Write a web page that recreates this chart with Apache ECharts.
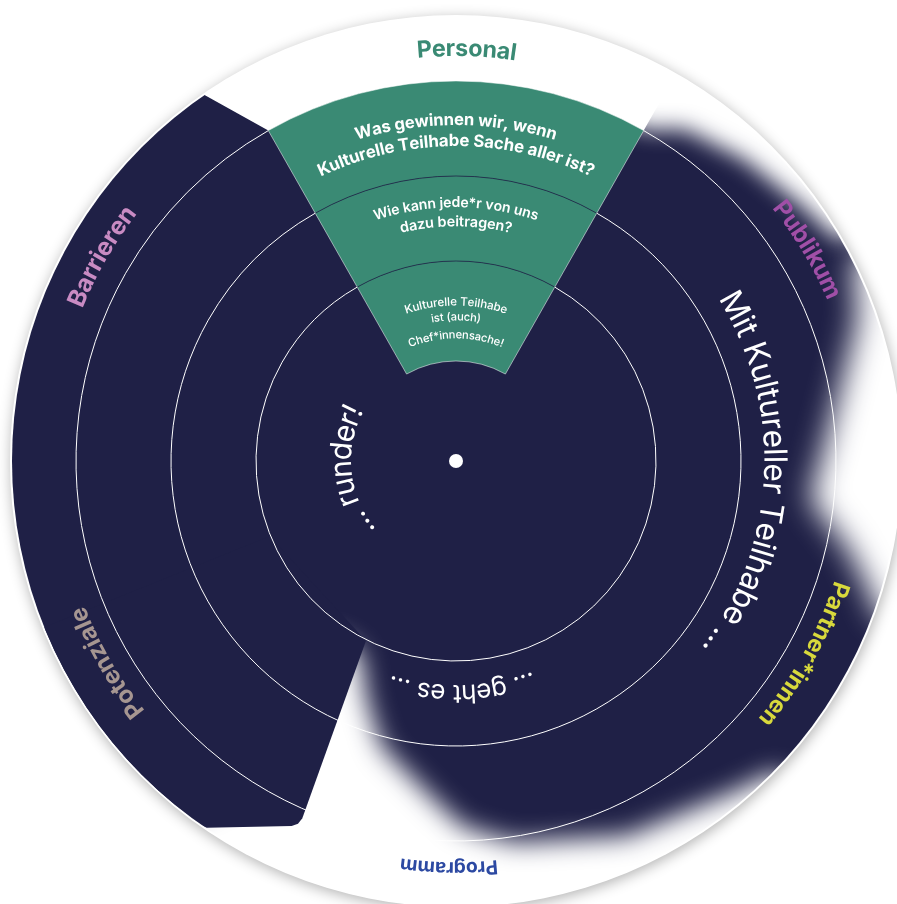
<!DOCTYPE html>
<html lang="de">
<head>
<meta charset="utf-8">
<title>Kulturelle Teilhabe</title>
<script src="https://cdn.jsdelivr.net/npm/echarts@6.0.0/dist/echarts.min.js"></script>
<style>
html, body { margin: 0; padding: 0; background: #ffffff; }
#chart { width: 897px; height: 904px; }
</style>
</head>
<body>
<div id="chart"></div>
<script>
// ---------------- data (radius units, bearings in degrees clockwise from top) ----------------
const categories = ['Personal', 'Publikum', 'Partner*innen', 'Programm', 'Potenziale', 'Barrieren'];
const categoryBearings = [1.5, 59, 119, 181, 240, 300];
const ringRadii = [200, 285, 380];
const discRadii = [446, 444];                       // card, wheel
const greenAngles = [330.4, 29.6];
const greenBands = [[100, 200], [200, 285], [285, 380]];
const greenQuestions = [
  ['Kulturelle Teilhabe', 'ist (auch)', 'Chef*innensache!'],
  ['Wie kann jede*r von uns', 'dazu beitragen?'],
  ['Was gewinnen wir, wenn', 'Kulturelle Teilhabe Sache aller ist?']
];
const sentence = ['Mit Kultureller Teilhabe ...', '... geht es ...', '... runder!'];
const sentenceBearings = [92.8, 178.5, 264];
// window cut out of the top disc: [bearing, radius]
const topCut = [[324.6, 900], [325.4, 446], [330.4, 380], [0, 368], [29.6, 380], [29.6, 900], [0, 900]];
// faded (blurred) cut-outs: [bearing, radius]
const fogTopRight = [[20, 383], [29.6, 381], [34.5, 403], [43.7, 417], [53.5, 430], [60, 441], [64, 900], [40, 900], [20, 900]];
const fogRight = [[63, 900], [63, 446], [70.5, 426], [78.7, 393], [88.3, 368], [96.2, 356], [102.6, 402], [108.3, 440], [110, 446], [113, 900], [88, 900]];
const fogBottom = [[132, 900], [134, 446], [140, 432], [155.5, 412], [171.3, 386], [178.9, 366], [184.4, 336],
  [194.7, 295], [200.8, 253], [204.5, 226], [207, 214], [216, 214], [213, 393], [232, 900], [200, 900], [165, 900]];
// lower left panel of the wheel (hard edge, rounded corner)
const lowerPanel = [[206.6, 201], [203.27, 389], [203.54, 395.6], [204.24, 400.4], [214.2, 443.5],
  [222, 460], [235, 460], [248, 460], [248, 201]];
const fogShapes = [fogTopRight, fogRight, fogBottom];

// ---------------- styles / layout ----------------
const NAVY = '#1f2046';
const GREEN = '#3a8a74';
const labelColors = ['#3a8a74', '#a04fa7', '#d8d93c', '#2c49a2', '#a69691', '#c98bc3'];
const fogBlur = [22, 30, 26];
const OFF = 3000;
const FONT = 'Inter, "Open Sans", sans-serif';
const layout = {
  labels: { r: [412, 412, 404, 407, 406, 411], width: [100, 110, 162, 98, 124, 112], size: 21, weight: 700 },
  sentence: { r: [318, 232, 114], width: [383, 150, 137], size: 27, weight: 400 },
  questions: { r: [[159, 144, 126], [258, 239], [341, 320]], width: [[104, 50, 97], [167, 113], [204, 284]],
    size: [10.5, 13.5, 17], weight: [500, 600, 700] }
};

// text items built from the arrays above
const textItems = [];
categories.forEach((t, i) => textItems.push({ text: t, bearing: categoryBearings[i], r: layout.labels.r[i],
  width: layout.labels.width[i], size: layout.labels.size, weight: layout.labels.weight, color: labelColors[i] }));
sentence.forEach((t, i) => textItems.push({ text: t, bearing: sentenceBearings[i], r: layout.sentence.r[i],
  width: layout.sentence.width[i], size: layout.sentence.size, weight: layout.sentence.weight, color: '#ffffff' }));
greenQuestions.forEach((lines, b) => lines.forEach((t, j) => textItems.push({ text: t, bearing: 0,
  r: layout.questions.r[b][j], width: layout.questions.width[b][j], size: layout.questions.size[b],
  weight: layout.questions.weight[b], color: '#ffffff' })));

// ---------------- helpers ----------------
const measureCtx = document.createElement('canvas').getContext('2d');
function ctr(params) { return [params.coordSys.cx, params.coordSys.cy]; }
function rpx(api, c, r) { const p = api.coord([r, 0]); return Math.hypot(p[0] - c[0], p[1] - c[1]); }
function ang(api, c, b) { const p = api.coord([100, b]); return Math.atan2(p[1] - c[1], p[0] - c[0]); }
function sweep(a0, a1) { while (a1 <= a0) a1 += 2 * Math.PI; return a1; }
function polyPts(api, pts) { return pts.map(p => api.coord([p[1], p[0]])); }
function clipCircle(api, c, r) { return { type: 'circle', shape: { cx: c[0], cy: c[1], r: rpx(api, c, r) } }; }

function arcChars(api, c, t) {
  const chars = Array.from(t.text);
  measureCtx.font = t.weight + ' ' + t.size + 'px ' + FONT;
  const w0 = chars.map(ch => measureCtx.measureText(ch).width);
  const natural = w0.reduce((a, b) => a + b, 0);
  const k = t.width ? t.width / natural : 1;
  const size = t.size * k;
  const widths = w0.map(w => w * k);
  const total = natural * k;
  const rp = rpx(api, c, t.r);
  let acc = 0;
  return chars.map((ch, i) => {
    const s = acc + widths[i] / 2 - total / 2;
    acc += widths[i];
    const b = t.bearing + s / rp * 180 / Math.PI;
    const p = api.coord([t.r, b]);
    return { type: 'text', x: p[0], y: p[1], rotation: -b * Math.PI / 180,
      style: { text: ch, fill: t.color, fontSize: size, fontWeight: t.weight, fontFamily: FONT,
        align: 'center', verticalAlign: 'middle' } };
  });
}

function layer(name, z, data, renderItem) {
  return { type: 'custom', name, coordinateSystem: 'polar', z, silent: true, clip: false,
    animation: false, data, renderItem };
}

const series = [
  layer('card', 1, [[discRadii[0], 0]], (params, api) => {
    const c = ctr(params);
    return { type: 'circle', shape: { cx: c[0], cy: c[1], r: rpx(api, c, api.value(0)) },
      style: { fill: '#ffffff', shadowBlur: 14, shadowColor: 'rgba(0,0,0,0.30)', shadowOffsetX: 1, shadowOffsetY: 3 } };
  }),
  layer('wheel', 2, [[discRadii[1], 0]], (params, api) => {
    const c = ctr(params);
    return { type: 'circle', shape: { cx: c[0], cy: c[1], r: rpx(api, c, api.value(0)) }, style: { fill: NAVY } };
  }),
  layer('window', 3, [[380, 0]], (params, api) => {
    const c = ctr(params);
    return { type: 'group', clipPath: clipCircle(api, c, discRadii[0] - 1),
      children: [{ type: 'polygon', shape: { points: polyPts(api, topCut) }, style: { fill: '#ffffff' } }] };
  }),
  layer('fog', 4, fogShapes.map(f => [f[1][1], f[1][0]]), (params, api) => {
    const c = ctr(params);
    const i = params.dataIndex;
    const pts = polyPts(api, fogShapes[i]).map(p => [p[0] - OFF, p[1]]);
    return { type: 'group', clipPath: clipCircle(api, c, discRadii[0] - 1),
      children: [{ type: 'polygon', shape: { points: pts },
        style: { fill: '#ffffff', shadowBlur: fogBlur[i], shadowColor: '#ffffff', shadowOffsetX: OFF } }] };
  }),
  layer('panel', 5, [[397, 203.2]], (params, api) => {
    const c = ctr(params);
    return { type: 'group', clipPath: clipCircle(api, c, discRadii[1]),
      children: [{ type: 'polygon', shape: { points: polyPts(api, lowerPanel) }, style: { fill: NAVY } }] };
  }),
  layer('green', 6, greenBands.map(b => [b[1], 0]), (params, api) => {
    const c = ctr(params);
    const b = greenBands[params.dataIndex];
    const a0 = ang(api, c, greenAngles[0]);
    const a1 = sweep(a0, ang(api, c, greenAngles[1]));
    return { type: 'sector', shape: { cx: c[0], cy: c[1], r0: rpx(api, c, b[0]), r: rpx(api, c, b[1]),
      startAngle: a0, endAngle: a1, clockwise: true }, style: { fill: GREEN } };
  }),
  layer('greenLines', 7, [[greenBands[0][0], 0]], (params, api) => {
    const c = ctr(params);
    const a0 = ang(api, c, greenAngles[0]);
    const a1 = sweep(a0, ang(api, c, greenAngles[1]));
    const children = [{ type: 'sector', shape: { cx: c[0], cy: c[1], r0: rpx(api, c, greenBands[0][0]),
      r: rpx(api, c, greenBands[2][1]), startAngle: a0, endAngle: a1, clockwise: true },
      style: { fill: null, stroke: 'rgba(255,255,255,0.65)', lineWidth: 0.8 } }];
    greenBands.slice(1).forEach(b => children.push({ type: 'arc',
      shape: { cx: c[0], cy: c[1], r: rpx(api, c, b[0]), startAngle: a0, endAngle: a1, clockwise: true },
      style: { stroke: 'rgba(31,32,70,0.75)', lineWidth: 1, fill: null } }));
    return { type: 'group', children };
  }),
  layer('rings', 8, ringRadii.map(r => [r, 0]), (params, api) => {
    const c = ctr(params);
    const a0 = ang(api, c, greenAngles[1]);
    const a1 = sweep(a0, ang(api, c, greenAngles[0]));
    return { type: 'arc', shape: { cx: c[0], cy: c[1], r: rpx(api, c, api.value(0)), startAngle: a0, endAngle: a1, clockwise: true },
      style: { stroke: '#ffffff', lineWidth: 1, fill: null } };
  }),
  layer('hub', 9, [[0, 0]], (params, api) => {
    const p = api.coord([0, 0]);
    return { type: 'circle', shape: { cx: p[0], cy: p[1], r: 7 }, style: { fill: '#ffffff' } };
  }),
  layer('texts', 10, textItems.map(t => [t.r, t.bearing]), (params, api) => {
    const c = ctr(params);
    return { type: 'group', children: arcChars(api, c, textItems[params.dataIndex]) };
  })
];

const chart = echarts.init(document.getElementById('chart'), null, { renderer: 'canvas', devicePixelRatio: 1 });
chart.setOption({
  animation: false,
  backgroundColor: '#ffffff',
  polar: { center: [456, 461], radius: 448 },
  angleAxis: { type: 'value', min: 0, max: 360, startAngle: 90, clockwise: true, show: false },
  radiusAxis: { type: 'value', min: 0, max: 448, show: false },
  series
});
</script>
</body>
</html>
